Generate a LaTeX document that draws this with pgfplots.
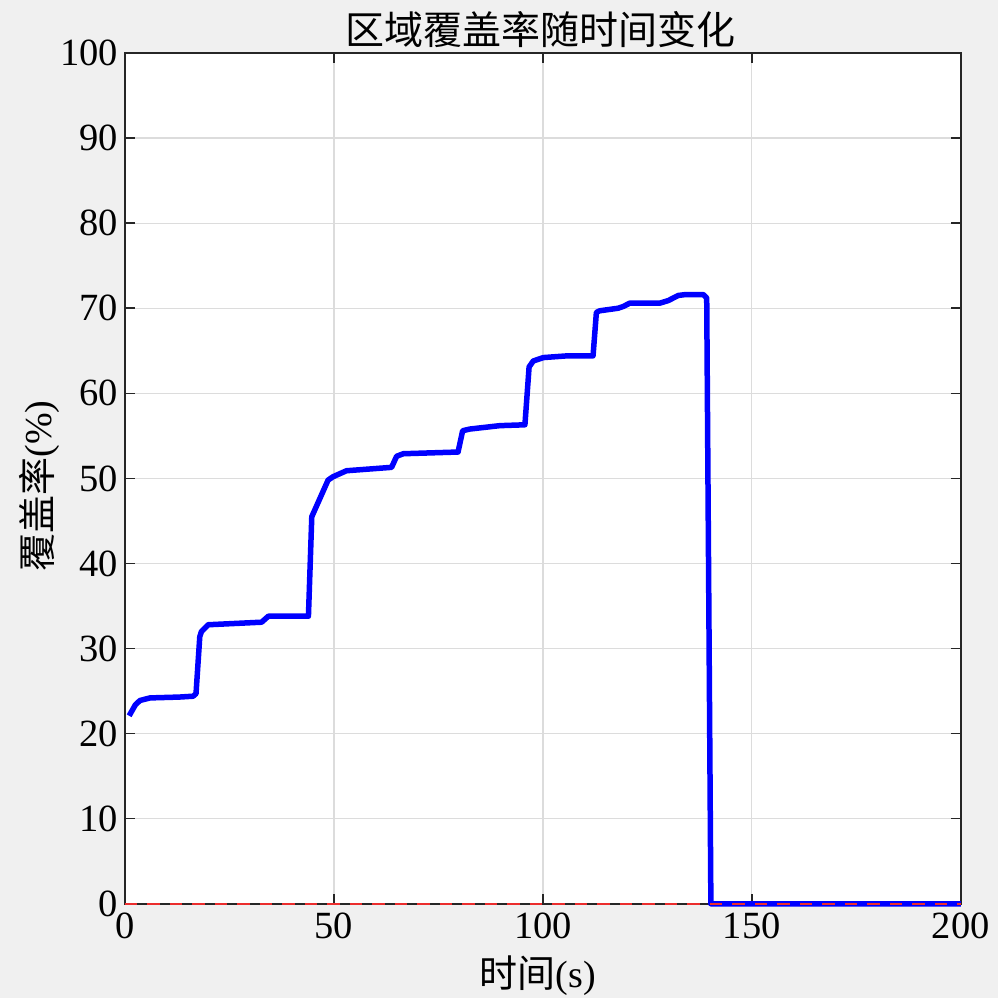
\documentclass[border=0pt]{standalone}
\usepackage{fontspec}
\setmainfont{Liberation Serif}
\newfontfamily\cjk{Noto Sans CJK SC}
\usepackage{pgfplots}
\pgfplotsset{compat=1.18}
\usetikzlibrary{backgrounds,calc}
\definecolor{figbg}{RGB}{240,240,240}
\definecolor{axgray}{RGB}{38,38,38}
\definecolor{gridgray}{RGB}{220,220,220}
\definecolor{cover}{RGB}{0,0,255}
\definecolor{zeroline}{RGB}{235,45,45}

\begin{document}
\begin{tikzpicture}
\begin{axis}[
    scale only axis, width=334.4pt, height=340.4pt,
    xmin=0, xmax=200, ymin=0, ymax=100,
    xtick={0,50,...,200}, ytick={0,10,...,100},
    grid=major, grid style={gridgray, line width=0.5pt},
    axis line style={axgray, line width=0.6pt},
    tick style={axgray, line width=0.6pt},
    tick align=inside, major tick length=4pt,
    axis background/.style={fill=white},
    tick label style={font=\fontsize{15.4}{18}\selectfont, black},
    y tick label style={inner xsep=2.5pt},
    /pgf/number format/assume math mode=true,
    title={\cjk 区域覆盖率随时间变化},
    every axis title/.style={at={(0.5,1)}, anchor=south, inner sep=0pt,
        yshift=2pt, xshift=-1pt, font=\fontsize{15.6}{18}\selectfont},
    xlabel={{\cjk 时间}(s)},
    every axis x label/.style={at={(0.5,0)}, anchor=north, inner sep=0pt,
        yshift=-20.4pt, xshift=-2pt, font=\fontsize{15.2}{18}\selectfont},
    ylabel={{\cjk 覆盖率}(\%)},
    every axis y label/.style={at={(0,0.5)}, xshift=-26pt, yshift=-3pt,
        rotate=90, anchor=south, inner sep=0pt,
        font=\fontsize{15.2}{18}\selectfont},
    clip=false,
]
\addplot[cover, line width=2.2pt, line join=round] coordinates {
  (1.0,22.1) (2.5,23.4) (3.6,23.9) (6,24.2) (13,24.3) (16.3,24.4)
  (17.0,24.7) (17.9,31.4) (18.3,32.0) (19.9,32.8) (32.7,33.1) (34.3,33.8)
  (43.9,33.8) (44.7,45.5) (48.6,49.8) (49.8,50.2) (53.0,50.9) (63.8,51.3)
  (65.0,52.6) (66.6,52.9) (79.7,53.1) (80.8,55.6) (82.5,55.8) (89.7,56.2)
  (95.7,56.3) (96.7,63.1) (97.7,63.8) (100.1,64.2) (105.7,64.4) (112.0,64.4)
  (112.8,69.5) (113.6,69.7) (118.0,70.0) (119.2,70.2) (120.8,70.6) (128.0,70.6)
  (130.0,70.9) (132.4,71.5) (134.0,71.6) (138.4,71.6) (139.2,71.2) (140.2,0)
  (200,0)
};
\addplot[zeroline, line width=0.9pt, dash pattern=on 5pt off 4pt] coordinates {
  (0,0) (200,0)
};
\coordinate (sw) at (rel axis cs:0,0);
\coordinate (ne) at (rel axis cs:1,1);
\end{axis}
\begin{scope}[on background layer]
\fill[figbg] ($(sw)+(-50pt,-37.6pt)$) rectangle ($(ne)+(14.8pt,21.2pt)$);
\end{scope}
\end{tikzpicture}
\end{document}
